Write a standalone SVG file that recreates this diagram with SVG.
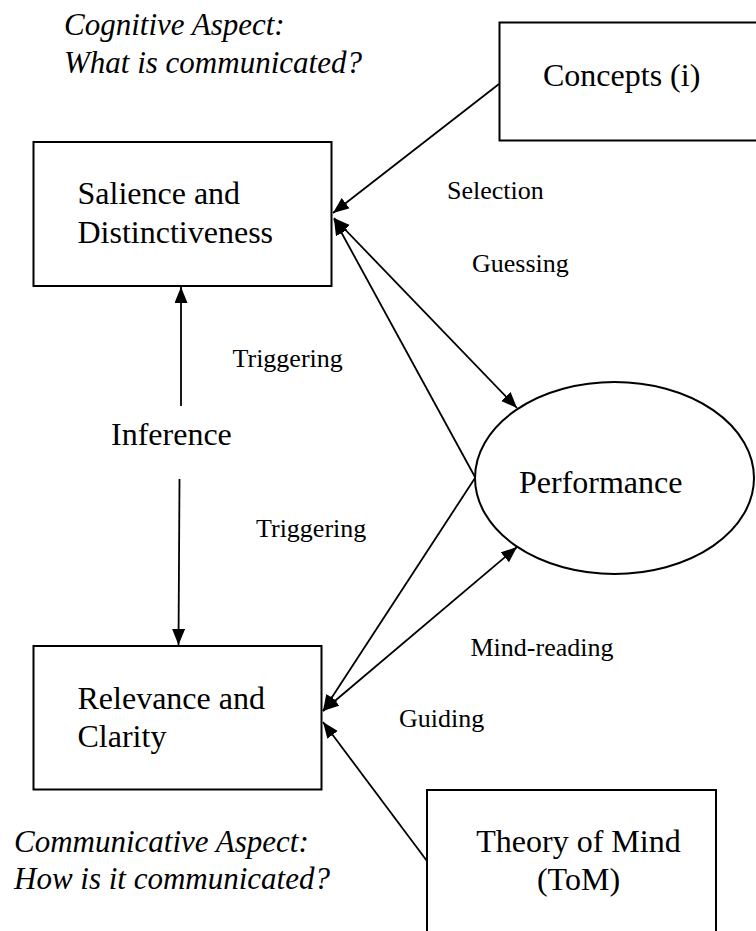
<svg xmlns="http://www.w3.org/2000/svg" width="756" height="931" viewBox="0 0 756 931">
<defs>
<style>
.box{fill:#fff;stroke:#000;stroke-width:2}
.ln{fill:none;stroke:#000;stroke-width:1.8}
.big{font-family:"Liberation Serif","Times New Roman",serif;font-size:32px;fill:#000}
.it{font-family:"Liberation Serif","Times New Roman",serif;font-size:31px;font-style:italic;fill:#000}
.lbl{font-family:"Liberation Serif","Times New Roman",serif;font-size:26px;fill:#000}
</style>
<marker id="ah" markerUnits="userSpaceOnUse" markerWidth="18" markerHeight="14" refX="16" refY="6.5" orient="auto-start-reverse" viewBox="0 0 18 14">
<path d="M0,0 L16,6.5 L0,13 z" fill="#000"/>
</marker>
</defs>
<rect width="756" height="931" fill="#fff"/>

<g id="cognitive-caption">
<text class="it" x="64" y="35">Cognitive Aspect:</text>
<text class="it" x="64" y="73">What is communicated?</text>
</g>
<g id="communicative-caption">
<text class="it" x="14" y="852">Communicative Aspect:</text>
<text class="it" x="14" y="889">How is it communicated?</text>
</g>

<g id="concepts">
<rect class="box" x="499.5" y="22.5" width="290" height="118"/>
<text class="big" x="543" y="86">Concepts (i)</text>
</g>
<g id="salience">
<rect class="box" x="33.5" y="142" width="298" height="144"/>
<text class="big" x="77.5" y="204">Salience and</text>
<text class="big" x="77.5" y="243">Distinctiveness</text>
</g>
<g id="inference">
<text class="big" x="111" y="445">Inference</text>
</g>
<g id="performance">
<ellipse class="box" cx="614.5" cy="478" rx="139.5" ry="96"/>
<text class="big" x="519" y="493">Performance</text>
</g>
<g id="relevance">
<rect class="box" x="33.5" y="646" width="288" height="143.5"/>
<text class="big" x="77.5" y="709">Relevance and</text>
<text class="big" x="77.5" y="747">Clarity</text>
</g>
<g id="tom">
<rect class="box" x="427" y="790" width="289" height="170"/>
<text class="big" x="578.5" y="852" text-anchor="middle">Theory of Mind</text>
<text class="big" x="578.5" y="890" text-anchor="middle">(ToM)</text>
</g>

<g id="connectors">
<line class="ln" x1="499" y1="84" x2="333" y2="213" marker-end="url(#ah)"/>
<line class="ln" x1="334" y1="218" x2="517" y2="408" marker-start="url(#ah)" marker-end="url(#ah)"/>
<line class="ln" x1="475" y1="477" x2="334" y2="219" marker-end="url(#ah)"/>
<line class="ln" x1="475" y1="478" x2="323" y2="711" marker-end="url(#ah)"/>
<line class="ln" x1="323" y1="711" x2="517" y2="547" marker-start="url(#ah)" marker-end="url(#ah)"/>
<line class="ln" x1="427" y1="861" x2="323" y2="722" marker-end="url(#ah)"/>
<line class="ln" x1="181" y1="406" x2="181" y2="287" marker-end="url(#ah)"/>
<line class="ln" x1="179.5" y1="479" x2="178.5" y2="645" marker-end="url(#ah)"/>
</g>

<g id="labels">
<text class="lbl" x="447" y="199">Selection</text>
<text class="lbl" x="472" y="272">Guessing</text>
<text class="lbl" x="232.5" y="367">Triggering</text>
<text class="lbl" x="256" y="537">Triggering</text>
<text class="lbl" x="470.5" y="656">Mind-reading</text>
<text class="lbl" x="399" y="727">Guiding</text>
</g>
</svg>
